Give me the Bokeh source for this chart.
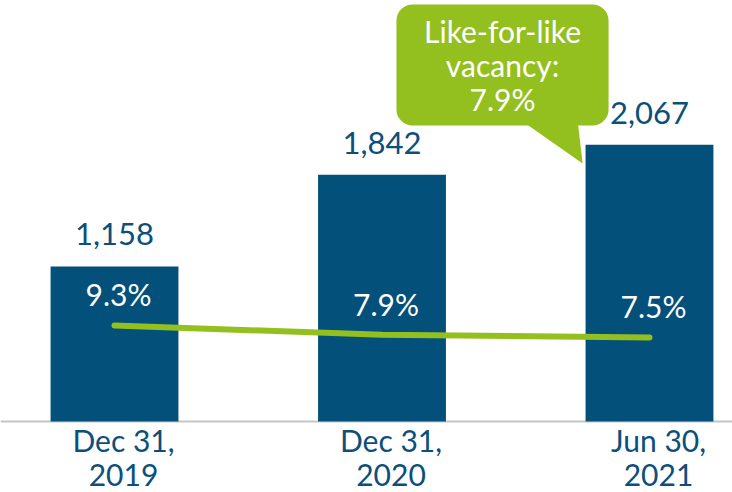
from bokeh.plotting import figure
from bokeh.models import Range1d, ColumnDataSource, BoxAnnotation, Span
from bokeh.core.properties import value
from bokeh.embed import file_html
from bokeh.resources import INLINE

# ---- data ----
categories = ["Dec 31, 2019", "Dec 31, 2020", "Jun 30, 2021"]
cat_line1 = ["Dec 31,", "Dec 31,", "Jun 30,"]
cat_line2 = ["2019", "2020", "2021"]
portfolio = [1158, 1842, 2067]
value_labels = ["1,158", "1,842", "2,067"]
vacancy = [9.3, 7.9, 7.5]
vacancy_labels = ["9.3%", "7.9%", "7.5%"]
callout_lines = ["Like-for-like", "vacancy:", "7.9%"]

BLUE = "#03507a"
LABEL_BLUE = "#0b4f7a"
GREEN = "#93c01f"
GRAY = "#c6c6c6"
FONT = "Lato"

xs = list(range(len(categories)))

p = figure(width=732, height=492, output_backend="svg", toolbar_location=None,
           x_range=Range1d(-0.4262, 2.3103), y_range=Range1d(-530.2, 3144.0),
           x_axis_location=None, y_axis_location=None, min_border=0)
p.outline_line_color = None
p.grid.visible = False
p.background_fill_color = "white"
p.border_fill_color = "white"
p.extra_y_ranges = {"vac": Range1d(-15.743, 58.009)}

# baseline
p.add_layout(Span(location=0, dimension="width", line_color=GRAY, line_width=2, level="underlay"))

# bars
src = ColumnDataSource(dict(x=xs, top=portfolio, vl=value_labels, vac=vacancy, pl=vacancy_labels,
                            c1=cat_line1, c2=cat_line2))
p.vbar(x="x", top="top", bottom=0, width=0.478, source=src, fill_color=BLUE, line_color=None)

# value labels
p.text(x="x", y="top", text="vl", source=src, text_align="center", text_baseline="alphabetic",
       y_offset=-32, text_font=value(FONT), text_font_size="31px", text_color=LABEL_BLUE)

# vacancy line
p.line(x="x", y="vac", source=src, y_range_name="vac", line_color=GREEN, line_width=6,
       line_cap="round", line_join="round")
p.text(x="x", y="vac", text="pl", source=src, y_range_name="vac", text_align="center",
       text_baseline="alphabetic", x_offset=4, y_offset=-31, text_font=value(FONT),
       text_font_size="30px", text_color="white")

# category labels
p.text(x="x", y=0, text="c1", source=src, text_align="center", text_baseline="alphabetic",
       x_offset=9, y_offset=18, text_font=value(FONT), text_font_size="30px", text_color=LABEL_BLUE)
p.text(x="x", y=0, text="c2", source=src, text_align="center", text_baseline="alphabetic",
       x_offset=9, y_offset=53, text_font=value(FONT), text_font_size="30px", text_color=LABEL_BLUE)

# callout (anchored relative to the last bar)
bx = xs[-1]
box_left, box_right = bx - 0.946, bx - 0.153
box_bottom, box_top = 2211, 3114
p.add_layout(BoxAnnotation(left=box_left, right=box_right, bottom=box_bottom, top=box_top,
                           fill_color=GREEN, fill_alpha=1, line_color=None, border_radius=16,
                           level="underlay"))
p.patch(x=[bx - 0.482, bx - 0.269, bx - 0.250], y=[box_bottom + 40, box_bottom + 40, 1927],
        fill_color=GREEN, line_color=None, level="underlay")
ccx = (box_left + box_right) / 2
csrc = ColumnDataSource(dict(x=[ccx] * 3, y=[box_bottom] * 3, t=callout_lines, off=[-94, -60, -26]))
p.text(x="x", y="y", text="t", y_offset="off", source=csrc, text_align="center",
       text_baseline="alphabetic", text_font=value(FONT), text_font_size="30px", text_color="white")

open("out.html", "w").write(file_html(p, INLINE))
